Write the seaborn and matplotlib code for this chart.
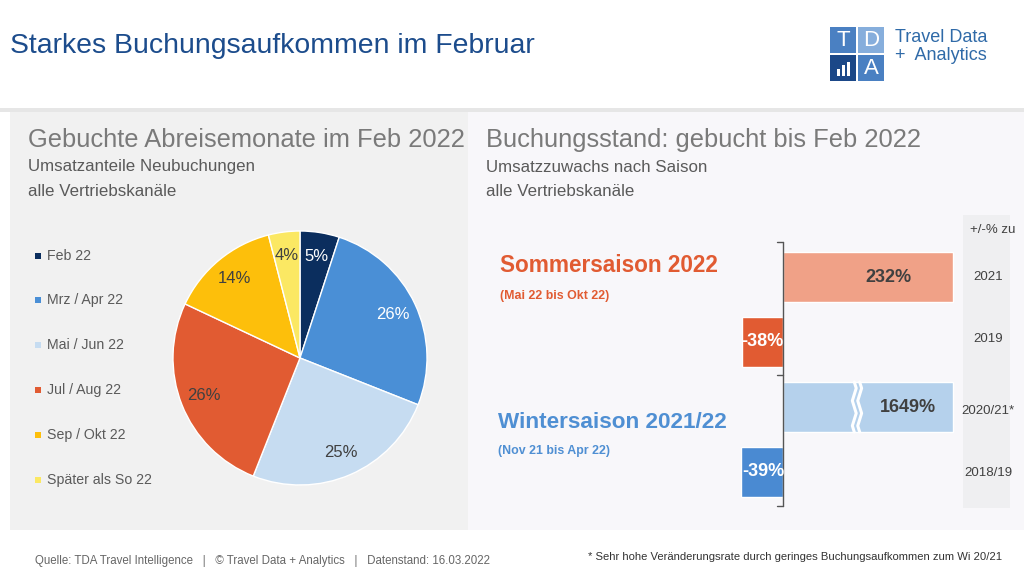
import numpy as np
import pandas as pd
import seaborn as sns
import matplotlib
matplotlib.use("Agg")
import matplotlib.pyplot as plt
from matplotlib.patches import Rectangle

# Pie data: booked departure months in Feb 2022
monate = ["Feb 22", "Mrz / Apr 22", "Mai / Jun 22", "Jul / Aug 22", "Sep / Okt 22", "Später als So 22"]
anteile = [5, 26, 25, 26, 14, 4]
pie_farben = ["#0b2e5e", "#4a8fd6", "#c6dcf1", "#e15b32", "#fdbf0b", "#fbe863"]
pie_textfarben = ["white", "white", "#404040", "#404040", "#404040", "#404040"]

# Bar data: growth per season
vergleich = ["2021", "2019", "2020/21*", "2018/19"]
zuwachs = [232, -38, 1649, -39]
bar_farben = ["#f0a187", "#e15b32", "#b5d1ec", "#4a8ad2"]
bar_textfarben = ["#404040", "white", "#404040", "white"]
kappung = 157  # broken scale for large values

W, H = 1024, 576

sns.set_theme(style="white")
plt.rcParams["font.family"] = ["Liberation Sans", "DejaVu Sans"]

fig = plt.figure(figsize=(W / 100, H / 100), dpi=100)
fig.patch.set_facecolor("white")


def px(x, y):
    return x / W, 1 - y / H


def box(x0, y0, x1, y1, color, z=0):
    fig.add_artist(Rectangle((x0 / W, 1 - y1 / H), (x1 - x0) / W, (y1 - y0) / H,
                             transform=fig.transFigure, facecolor=color,
                             edgecolor="none", zorder=z))


def txt(x, y, s, **kw):
    kw.setdefault("va", "center")
    fig.text(*px(x, y), s, **kw)


# background panels
box(0, 108, W, 112, "#e6e6e6")
box(10, 112, 468, 530, "#f1f1f1")
box(468, 112, W, 530, "#f8f7fa")
box(963, 215, 1010, 508, "#efeff1")

# header
txt(10, 46, "Starkes Buchungsaufkommen im Februar", fontsize=20.4, color="#1c4c8c")
box(830, 27, 856, 53, "#4a80c2")
box(858, 27, 884, 53, "#86aedc")
box(830, 55, 856, 81, "#1b4888")
box(858, 55, 884, 81, "#4a80c2")
txt(843, 40, "T", fontsize=16, color="white", ha="center")
txt(871, 40, "D", fontsize=16, color="white", ha="center")
txt(871, 68, "A", fontsize=16, color="white", ha="center")
for i, h in enumerate([7, 11, 14]):
    box(837 + i * 5, 76 - h, 840 + i * 5, 76, "white", z=3)
txt(895, 38, "Travel Data", fontsize=13, color="#2f6aa8")
txt(895, 56, "+  Analytics", fontsize=13, color="#2f6aa8")

# left panel texts
txt(28, 140, "Gebuchte Abreisemonate im Feb 2022", fontsize=18.4, color="#7a7a7a")
txt(28, 167, "Umsatzanteile Neubuchungen", fontsize=12.2, color="#5a5a5a")
txt(28, 192, "alle Vertriebskanäle", fontsize=12.2, color="#5a5a5a")

legend_y = [256, 300, 345, 390, 435, 480]
for name, farbe, y in zip(monate, pie_farben, legend_y):
    box(35, y - 3, 41, y + 3, farbe, z=3)
    txt(47, y, name, fontsize=10.2, color="#5a5a5a")

# pie
r = 127
axp = fig.add_axes([(300 - r) / W, (H - 358 - r) / H, 2 * r / W, 2 * r / H])
wedges, texts, autotexts = axp.pie(
    anteile, colors=pie_farben, startangle=90, counterclock=False,
    autopct=lambda p: f"{p:.0f}%", pctdistance=0.81,
    wedgeprops=dict(edgecolor="white", linewidth=1),
    textprops=dict(fontsize=12))
for t, c in zip(autotexts, pie_textfarben):
    t.set_color(c)
axp.set_xlim(-1, 1)
axp.set_ylim(-1, 1)
axp.set_aspect("equal")
axp.axis("off")

# right panel texts
txt(486, 140, "Buchungsstand: gebucht bis Feb 2022", fontsize=18.4, color="#7a7a7a")
txt(486, 167, "Umsatzzuwachs nach Saison", fontsize=12.2, color="#5a5a5a")
txt(486, 192, "alle Vertriebskanäle", fontsize=12.2, color="#5a5a5a")
txt(500, 266, "Sommersaison 2022", fontsize=16.3, fontweight="bold", color="#e15b32")
txt(500, 296, "(Mai 22 bis Okt 22)", fontsize=8.9, fontweight="bold", color="#e15b32")
txt(498, 423, "Wintersaison 2021/22", fontsize=16.2, fontweight="bold", color="#4f8fd3")
txt(498, 451, "(Nov 21 bis Apr 22)", fontsize=8.9, fontweight="bold", color="#4f8fd3")

txt(993, 230, "+/-% zu", fontsize=9.5, color="#404040", ha="center")
for name, y in zip(vergleich, [277, 339, 411, 473]):
    txt(988, y, name, fontsize=9.5, color="#404040", ha="center")

# bars
scale = 1.08  # px per percent
x_lo, x_hi = -45, 160
axb = fig.add_axes([(783 + x_lo * scale) / W, (H - 504.5) / H,
                    (x_hi - x_lo) * scale / W, 260 / H])
df = pd.DataFrame({"vergleich": vergleich,
                   "wert": np.clip(zuwachs, None, kappung)})
sns.barplot(data=df, x="wert", y="vergleich", hue="vergleich",
            palette=bar_farben, orient="h", width=0.77, saturation=1,
            legend=False, ax=axb)
axb.set_xlim(x_lo, x_hi)
axb.set_ylim(3.5, -0.5)
axb.patch.set_alpha(0)
for s in axb.spines.values():
    s.set_visible(False)
axb.set_xticks([])
axb.set_yticks([])
axb.set_xlabel("")
axb.set_ylabel("")

label_x = [98, -19, 116, -18]
for i, (v, c, lx) in enumerate(zip(zuwachs, bar_textfarben, label_x)):
    axb.text(lx, i, f"{v}%", ha="center", va="center",
             fontsize=13, fontweight="bold", color=c)

# break marks on the 1649% bar
yy = np.linspace(-0.385, 0.385, 9)
zz = np.array([0, 1.8, 0, -1.8, 0, 1.8, 0, -1.8, 0])
for x0 in [66, 71]:
    axb.plot(x0 + zz, 2 + yy, color="white", lw=2.2)

# bracket
axb.plot([0, 0], [-0.54, 3.52], color="#555555", lw=1, clip_on=False)
for y in [-0.54, 1.51, 3.52]:
    axb.plot([-5.5, 0], [y, y], color="#555555", lw=1, clip_on=False)

# footer
txt(35, 561, "Quelle: TDA Travel Intelligence   |   © Travel Data + Analytics   |   Datenstand: 16.03.2022",
    fontsize=8.3, color="#666666")
txt(588, 557, "* Sehr hohe Veränderungsrate durch geringes Buchungsaufkommen zum Wi 20/21",
    fontsize=8.15, color="#333333")

fig.savefig("out.png", dpi=100, facecolor=fig.get_facecolor())
